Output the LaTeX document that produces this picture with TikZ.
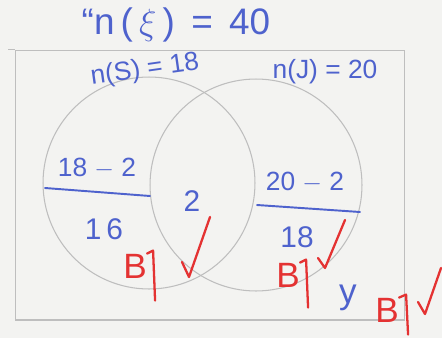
\documentclass[tikz,border=0pt]{standalone}
\usepackage{fontspec}
\setmainfont{Liberation Sans}
\usetikzlibrary{positioning}
\definecolor{inkblue}{RGB}{78,98,205}
\definecolor{inkred}{RGB}{228,50,50}
\definecolor{paper}{RGB}{243,243,241}
\definecolor{pencil}{RGB}{190,190,190}
\tikzset{
    bluetext/.style={text=inkblue, inner sep=0pt},
    redB/.style={text=inkred, inner sep=0pt, font=\fontsize{20}{22}\selectfont},
    redpen/.style={draw=inkred, line width=1.3pt, line cap=round, line join=round},
    bluepen/.style={draw=inkblue, line width=1.1pt, line cap=round},
    setring/.style={circle, draw=pencil, line width=0.6pt, minimum size=4.24cm, inner sep=0pt},
}
\begin{document}
\begin{tikzpicture}[x=0.02cm, y=-0.02cm]
    \fill[paper] (0,0) rectangle (442,338);
    \useasboundingbox (0,0) rectangle (442,338);

    \node[draw=pencil, line width=0.6pt, minimum width=7.8cm, minimum height=5.4cm] (box) at (210,185) {};
    \draw[pencil, line width=0.6pt] (box.north west) -- ++(-7,0);

    \node[setring] (S) at (149,183) {};
    \node[setring] (J) at (256,185) {};

    \node[bluetext, font=\fontsize{21}{23}\selectfont] (total) at (176,25) {``n\,(\,$\xi$\,)\, = \,40};
    \node[bluetext, font=\fontsize{15}{17}\selectfont, rotate=8] (nS) at (145,70) {n(S) = 18};
    \node[bluetext, font=\fontsize{15}{17}\selectfont] (nJ) at (325,72) {n(J) = 20};

    \node[bluetext, font=\fontsize{15}{17}\selectfont] (sdiff) at (97,168) {18 $-$ 2};
    \node[bluetext, font=\fontsize{17}{19}\selectfont] (sonly) at (104,229) {1\,6};
    \node[bluetext, font=\fontsize{17}{19}\selectfont] (both) at (192,201) {2};
    \node[bluetext, font=\fontsize{15}{17}\selectfont] (jdiff) at (305,182) {20 $-$ 2};
    \node[bluetext, font=\fontsize{17}{19}\selectfont] (jonly) at (297,237) {18};
    \node[bluetext, font=\fontsize{20}{22}\selectfont] (none) at (348,298) {y};

    \coordinate (sl1) at (45,188);
    \coordinate (sl2) at (150,196);
    \coordinate (jl1) at (257,205);
    \coordinate (jl2) at (360,212);
    \draw[bluepen] (sl1) -- (sl2);
    \draw[bluepen] (jl1) -- (jl2);

    \node[redB] (b1) at (135,266) {B};
    \node[redB] (b2) at (288,275) {B};
    \node[redB] (b3) at (387,310) {B};
    \draw[redpen] (b1.north east) -- ++(6,-3) -- ++(2,50);
    \draw[redpen] (b2.north east) -- ++(6,-3) -- ++(2,48);
    \draw[redpen] (b3.north east) -- ++(7,-3) -- ++(2,40);

    \draw[redpen] (182,262) -- (189,277) -- (210,217);
    \draw[redpen] (318,258) -- (325,268) -- (345,220);
    \draw[redpen] (418,302) -- (425,314) -- (441,268);
\end{tikzpicture}
\end{document}
